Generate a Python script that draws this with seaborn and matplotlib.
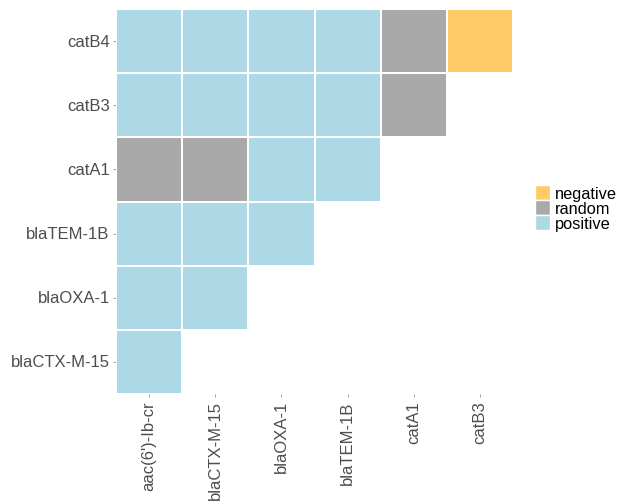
import numpy as np
import pandas as pd
import matplotlib
matplotlib.use("Agg")
import matplotlib.pyplot as plt
from matplotlib.colors import ListedColormap
from matplotlib.patches import Patch
import seaborn as sns

# Genes on each axis
row_genes = ["catB4", "catB3", "catA1", "blaTEM-1B", "blaOXA-1", "blaCTX-M-15"]
col_genes = ["aac(6')-Ib-cr", "blaCTX-M-15", "blaOXA-1", "blaTEM-1B", "catA1", "catB3"]

# Association type for each pair (None = no pair drawn)
assoc = [
    ["positive", "positive", "positive", "positive", "random", "negative"],
    ["positive", "positive", "positive", "positive", "random", None],
    ["random", "random", "positive", "positive", None, None],
    ["positive", "positive", "positive", None, None, None],
    ["positive", "positive", None, None, None, None],
    ["positive", None, None, None, None, None],
]

levels = ["negative", "random", "positive"]
level_colors = ["#FFCB66", "#A9A9A9", "#ADD8E6"]

code = {lv: i for i, lv in enumerate(levels)}
values = np.array([[np.nan if a is None else code[a] for a in row] for row in assoc], dtype=float)
df = pd.DataFrame(values, index=row_genes, columns=col_genes)

sns.set_style("white")
plt.rcParams["font.family"] = ["Liberation Sans", "DejaVu Sans"]

fig = plt.figure(figsize=(6.18, 5.02), dpi=100)
ax = fig.add_axes([116 / 618, 1 - 395 / 502, (513 - 116) / 618, (395 - 10) / 502])

sns.heatmap(df, ax=ax, cmap=ListedColormap(level_colors), vmin=-0.5, vmax=2.5,
            cbar=False, linewidths=1.1, linecolor="white", square=False)

ax.tick_params(axis="both", length=2.5, width=0.5, color="#7F7F7F",
               labelsize=12, labelcolor="#4D4D4D", pad=2)
ax.set_xticklabels(col_genes, rotation=90, va="top", ha="center")
ax.set_yticklabels(row_genes, rotation=0)
ax.tick_params(axis="x", bottom=True)
ax.tick_params(axis="y", left=True)
ax.set_xlabel("")
ax.set_ylabel("")
for s in ax.spines.values():
    s.set_visible(False)

handles = [Patch(facecolor=c, edgecolor="white", label=lv) for lv, c in zip(levels, level_colors)]
fig.legend(handles=handles, loc="center left", bbox_to_anchor=(535 / 618, 1 - 209 / 502),
           frameon=False, fontsize=11.8, handlelength=0.9, handleheight=1.0,
           handletextpad=0.3, labelspacing=-0.05, borderpad=0, borderaxespad=0,
           labelcolor="black")

fig.savefig("out.png", dpi=100)
